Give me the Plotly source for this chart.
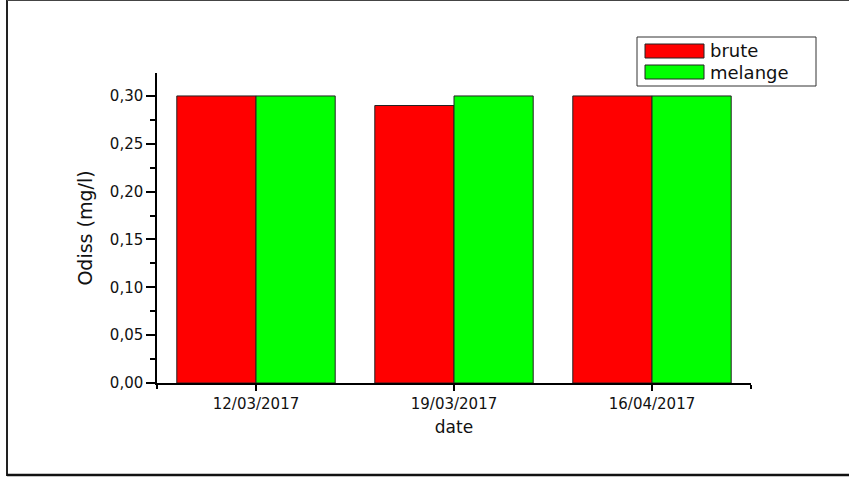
import plotly.graph_objects as go

# Dissolved oxygen per sampling date
dates = ["12/03/2017", "19/03/2017", "16/04/2017"]
brute = [0.30, 0.29, 0.30]
melange = [0.30, 0.30, 0.30]
series_names = ["brute", "melange"]
series_colors = ["#FF0000", "#00FF00"]
y_ticks = [0.00, 0.05, 0.10, 0.15, 0.20, 0.25, 0.30]

W, H = 849, 477
L, R, T, B = 157, 98, 73, 94
pw, ph = W - L - R, H - T - B


def px_x(x):
    return (x - L) / pw


def px_y(y):
    return (H - B - y) / ph


FONT = "DejaVu Sans"
xpos = [1, 2, 3]

fig = go.Figure()
for name, vals, col in zip(series_names, [brute, melange], series_colors):
    fig.add_trace(go.Bar(
        x=xpos, y=vals, name=name, marker=dict(color=col, line=dict(color="#222", width=1)),
        showlegend=False,
    ))

fig.update_layout(
    width=W, height=H,
    margin=dict(l=L, r=R, t=T, b=B),
    paper_bgcolor="white", plot_bgcolor="white",
    barmode="group", bargap=0.2, bargroupgap=0,
    separators=", ",
    font=dict(family=FONT, color="#111", size=15),
    xaxis=dict(
        range=[0.5, 3.5], tickmode="array", tickvals=xpos, ticktext=dates,
        showline=True, linecolor="black", linewidth=1.5,
        ticks="outside", ticklen=6, tickwidth=1.5, tickcolor="black",
        minor=dict(tickmode="array", tickvals=[0.5, 3.5], ticks="outside", ticklen=4,
                   tickwidth=1.5, tickcolor="black"),
        showgrid=False, zeroline=False,
        tickfont=dict(family=FONT, size=15),
        title=dict(text="date", font=dict(family=FONT, size=17), standoff=9),
    ),
    yaxis=dict(
        range=[0, 0.324], tickmode="array", tickvals=y_ticks, tickformat=".2f",
        showline=True, linecolor="black", linewidth=1.5,
        ticks="outside", ticklen=9, tickwidth=1.5, tickcolor="black",
        minor=dict(dtick=0.025, tick0=0, ticks="outside", ticklen=5,
                   tickwidth=1.5, tickcolor="black", showgrid=False),
        showgrid=False, zeroline=False,
        tickfont=dict(family=FONT, size=15),
        title=dict(text="Odiss (mg/l)", font=dict(family=FONT, size=19), standoff=12),
    ),
)

shapes = []
# page frame
shapes.append(dict(type="line", xref="paper", yref="paper", x0=px_x(7), x1=px_x(7),
                   y0=px_y(0), y1=px_y(476), line=dict(color="#222", width=2)))
shapes.append(dict(type="line", xref="paper", yref="paper", x0=px_x(7), x1=px_x(849),
                   y0=px_y(0.5), y1=px_y(0.5), line=dict(color="#444", width=1)))
shapes.append(dict(type="line", xref="paper", yref="paper", x0=px_x(7), x1=px_x(849),
                   y0=px_y(475), y1=px_y(475), line=dict(color="#111", width=2.5)))

# legend box
shapes.append(dict(type="rect", xref="paper", yref="paper", x0=px_x(637), x1=px_x(816),
                   y0=px_y(86), y1=px_y(37), line=dict(color="#333", width=1),
                   fillcolor="white"))
annotations = []
for i, (name, col) in enumerate(zip(series_names, series_colors)):
    top = 44 + i * 21
    shapes.append(dict(type="rect", xref="paper", yref="paper", x0=px_x(645), x1=px_x(704),
                       y0=px_y(top + 14), y1=px_y(top), line=dict(color="#222", width=1),
                       fillcolor=col))
    annotations.append(dict(xref="paper", yref="paper", x=px_x(709), y=px_y(top + 7),
                            xanchor="left", yanchor="middle", text=name, showarrow=False,
                            borderpad=0,
                            font=dict(family=FONT, size=18, color="#111")))

fig.update_layout(shapes=shapes, annotations=annotations)
fig.write_html("out.html")
